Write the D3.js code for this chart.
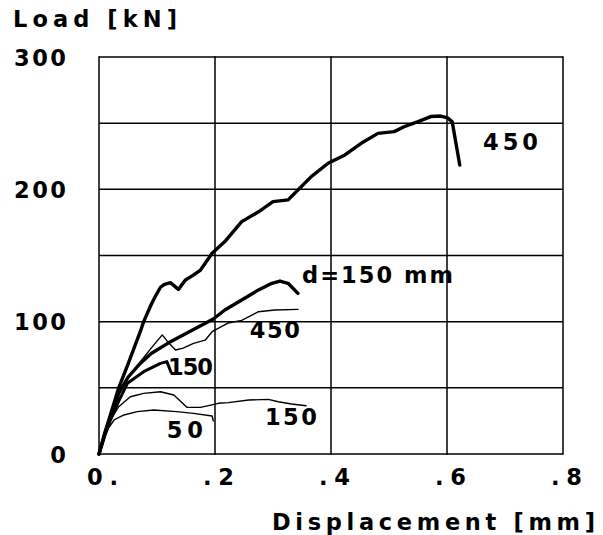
<!DOCTYPE html>
<html>
<head>
<meta charset="utf-8">
<script src="https://cdn.jsdelivr.net/npm/d3@7"></script>
<style>
  html, body { margin: 0; padding: 0; background: #fff; }
  svg { display: block; }
  text { font-family: "DejaVu Sans", sans-serif; font-weight: bold; font-size: 22.5px; fill: #000; }
</style>
</head>
<body>
<svg id="chart" width="603" height="535"></svg>
<script>
// ---- data (displacement [mm], load [kN]) ----
const xTicks = [0, 0.2, 0.4, 0.6, 0.8];
const xTickLabels = ["0.", ".2", ".4", ".6", ".8"];
const yTicks = [0, 100, 200, 300];
const yTickLabels = ["0", "100", "200", "300"];
const yGrid = [0, 50, 100, 150, 200, 250, 300];

// thick curve, d=450
const s450thick = [[0,0],[0.01,16],[0.02,30],[0.034,50],[0.05,68],[0.0716,93],[0.077,100],[0.09,113],[0.097,119],[0.106,126],[0.112,128],[0.123,129.5],[0.137,124.4],[0.149,131.5],[0.162,135],[0.175,139],[0.195,151.7],[0.217,160.5],[0.246,175.6],[0.275,183],[0.300,190.7],[0.326,192],[0.343,199.5],[0.366,209.6],[0.395,219.7],[0.424,226],[0.452,234.8],[0.481,242.3],[0.509,243.6],[0.526,247.3],[0.549,251],[0.572,255],[0.589,255.4],[0.601,254],[0.609,251],[0.622,218.4]];
// thick curve, d=150 mm
const s150thick = [[0,0],[0.01,15],[0.02,28],[0.034,46],[0.05,58],[0.07,68],[0.09,76],[0.12,84],[0.163,94],[0.197,102],[0.217,108.8],[0.246,116.4],[0.275,124],[0.298,129],[0.312,130.7],[0.326,129],[0.343,121.4]];
// thick short curve, label 150
const s150short = [[0,0],[0.01,14],[0.02,26],[0.034,40],[0.049,53.4],[0.077,62.2],[0.106,68.5],[0.117,69.8],[0.124,62]];
// thin curve, label 450
const s450thin = [[0,0],[0.01,14],[0.02,27],[0.034,45],[0.05,57],[0.07,69],[0.09,80],[0.109,90],[0.12,84],[0.132,78.6],[0.145,80],[0.163,83.6],[0.183,86],[0.195,92.4],[0.223,99],[0.246,101],[0.275,107.5],[0.303,108.8],[0.343,109.3]];
// thin curve, label 150 (low)
const s150thin = [[0,0],[0.0086,15.6],[0.02,25.7],[0.034,35.7],[0.054,43.3],[0.077,45.8],[0.106,47],[0.129,44.6],[0.152,35.2],[0.175,35.2],[0.206,38.3],[0.223,38.8],[0.258,40.8],[0.292,41.3],[0.309,39.5],[0.332,37.8],[0.357,36.5]];
// thin curve, label 50
const s50thin = [[0,0],[0.008,12],[0.017,20],[0.026,25.7],[0.043,29.5],[0.066,32],[0.094,33.2],[0.134,32],[0.163,30.7],[0.195,28.7],[0.197,25]];

const labelTexts = ["450", "d=150 mm", "450", "150", "150", "50"];
const labelX = [0.662, 0.350, 0.260, 0.119, 0.286, 0.117];
const labelY = [229.7, 129.2, 87.7, 59.7, 21.9, 12.1];

// ---- drawing ----
const svg = d3.select("#chart");
const x = d3.scaleLinear().domain([0, 0.8]).range([99, 563]);
const y = d3.scaleLinear().domain([0, 300]).range([454, 57]);

// grid
svg.append("g").selectAll("line").data(xTicks).join("line")
  .attr("x1", d => x(d)).attr("x2", d => x(d))
  .attr("y1", y(0) + 0.75).attr("y2", y(300) - 0.75)
  .attr("stroke", "#000").attr("stroke-width", 1.5);
svg.append("g").selectAll("line").data(yGrid).join("line")
  .attr("x1", x(0)).attr("x2", x(0.8))
  .attr("y1", d => y(d)).attr("y2", d => y(d))
  .attr("stroke", "#000").attr("stroke-width", 1.5);

const fontStyle = sel => sel
  .style("font-size", "22.5px").style("font-family", '"DejaVu Sans", sans-serif')
  .style("font-weight", "bold").attr("fill", "#000");

// axis tick labels via d3 axes
const xAxis = d3.axisBottom(x).tickValues(xTicks)
  .tickFormat((d, i) => xTickLabels[i]).tickSize(0).tickPadding(0);
const gx = svg.append("g").attr("transform", `translate(3,${y(0)})`).call(xAxis);
gx.select(".domain").remove();
gx.selectAll("text").attr("dy", null).attr("y", 31)
  .attr("textLength", 31).attr("lengthAdjust", "spacing").call(fontStyle);

const yAxis = d3.axisLeft(y).tickValues(yTicks)
  .tickFormat((d, i) => yTickLabels[i]).tickSize(0).tickPadding(0);
const gy = svg.append("g").attr("transform", `translate(66,0)`).call(yAxis);
gy.select(".domain").remove();
gy.selectAll("text").attr("dy", null).attr("x", 0).attr("y", 8)
  .attr("textLength", d => d === 0 ? null : 52).attr("lengthAdjust", "spacing")
  .call(fontStyle);

// axis titles
svg.append("text").attr("x", 13).attr("y", 27)
  .attr("textLength", 164).attr("lengthAdjust", "spacing").text("Load [kN]");
svg.append("text").attr("x", 272).attr("y", 530)
  .attr("textLength", 323).attr("lengthAdjust", "spacing").text("Displacement [mm]");

// curves
const line = d3.line().x(d => x(d[0])).y(d => y(d[1]));
const series = [
  {d: s450thick, w: 3.4},
  {d: s150thick, w: 3.4},
  {d: s150short, w: 3.0},
  {d: s450thin, w: 1.4},
  {d: s150thin, w: 1.4},
  {d: s50thin, w: 1.4}
];
svg.append("g").selectAll("path").data(series).join("path")
  .attr("d", s => line(s.d))
  .attr("fill", "none").attr("stroke", "#000")
  .attr("stroke-width", s => s.w)
  .attr("stroke-linejoin", "round").attr("stroke-linecap", "round");

// curve labels
const labelWidths = [55, 151, 50, 45, 52, 36];
svg.append("g").selectAll("text").data(labelTexts).join("text")
  .attr("x", (d, i) => x(labelX[i])).attr("y", (d, i) => y(labelY[i]))
  .attr("textLength", (d, i) => labelWidths[i]).attr("lengthAdjust", "spacing")
  .text(d => d);
</script>
</body>
</html>
